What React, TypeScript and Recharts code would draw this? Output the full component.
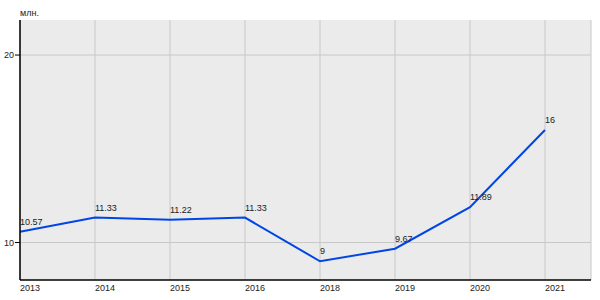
import React from 'react';
import {
  LineChart,
  Line,
  XAxis,
  YAxis,
  CartesianGrid,
  LabelList,
} from 'recharts';

const years = ['2013', '2014', '2015', '2016', '2018', '2019', '2020', '2021'];
const values = [10.57, 11.33, 11.22, 11.33, 9, 9.67, 11.89, 16];
const yTicks = [10, 20];

const data = years.map((year, i) => ({ year, value: values[i] }));

const FONT = '"Liberation Sans", Arial, sans-serif';

const XTick = (props: any) => {
  const { x, y, payload } = props;
  return (
    <text x={x} y={y} dy={9} fontSize={9} fontFamily={FONT} fill="#222" textAnchor="start">
      {payload.value}
    </text>
  );
};

const PointLabel = (props: any) => {
  const { x, y, value } = props;
  return (
    <text x={x} y={y} dy={-7} fontSize={9} fontFamily={FONT} fill="#222" textAnchor="start">
      {value}
    </text>
  );
};

const App: React.FC = () => {
  return (
    <div style={{ position: 'absolute', left: 0, top: 0, width: 600, height: 300, background: '#fff' }}>
      <div
        style={{
          position: 'absolute',
          left: 20,
          top: 8,
          fontSize: 9,
          fontFamily: FONT,
          color: '#222',
          lineHeight: '10px',
        }}
      >
        млн.
      </div>
      <LineChart
        width={600}
        height={300}
        data={data}
        margin={{ top: 20, right: 9, bottom: 0, left: 0 }}
      >
        <CartesianGrid
          fill="#ebebeb"
          stroke="#c8c8c8"
          strokeWidth={1}
          horizontalValues={yTicks}
        />
        <XAxis
          dataKey="year"
          height={20}
          interval={0}
          padding={{ left: 0, right: 46 }}
          axisLine={{ stroke: '#000', strokeWidth: 1.5 }}
          tickLine={false}
          tickSize={0}
          tick={<XTick />}
        />
        <YAxis
          width={20}
          domain={[8, 21.87]}
          ticks={yTicks}
          allowDataOverflow
          axisLine={{ stroke: '#000', strokeWidth: 1.5 }}
          tickLine={{ stroke: '#000' }}
          tickSize={5}
          tickMargin={1}
          tick={{ fontSize: 9, fontFamily: FONT, fill: '#222' }}
        />
        <Line
          type="linear"
          dataKey="value"
          stroke="#0046e6"
          strokeWidth={2}
          dot={false}
          activeDot={false}
          isAnimationActive={false}
        >
          <LabelList dataKey="value" content={<PointLabel />} />
        </Line>
      </LineChart>
    </div>
  );
};

export default App;
